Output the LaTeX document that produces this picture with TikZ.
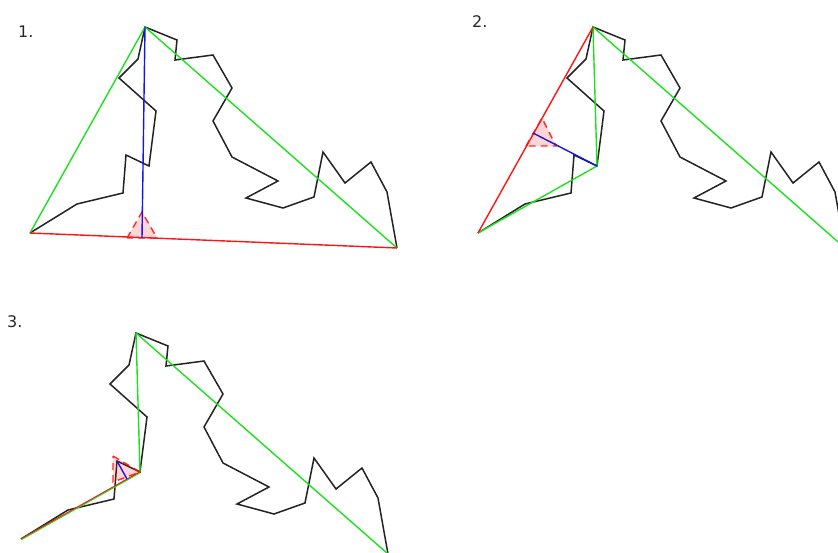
\documentclass[tikz,border=0pt]{standalone}
\usepackage{fontspec}
\setmainfont{DejaVu Sans}
\definecolor{lgreen}{RGB}{30,225,30}
\definecolor{lred}{RGB}{255,20,20}
\definecolor{lblue}{RGB}{20,20,235}
\definecolor{lblack}{RGB}{35,35,35}
\definecolor{ltext}{RGB}{40,40,40}
\begin{document}
\begin{tikzpicture}[x=1pt,y=-1pt,
  curve/.style={draw=lblack,line width=1.5pt,line join=miter},
  gline/.style={draw=lgreen,line width=1.4pt},
  rline/.style={draw=lred,line width=1.4pt},
  bline/.style={draw=lblue,line width=1.4pt},
  marker/.style={fill=lred,fill opacity=0.18,draw=lred,draw opacity=0.9,dashed,dash pattern=on 7pt off 5pt,line width=1.4pt},
  lab/.style={anchor=base west,inner sep=0pt,text=ltext,font=\fontsize{16}{16}\selectfont}]
\useasboundingbox (0,0) rectangle (838,553);
\clip (0,0) rectangle (838,553);
\def\pts{30/233,77/204,123/193,126/155,149/166,156/111,119/78,138/59,145/27,177/40,175/60,213/55,232/88,213/121,232/157,278/181,246/198,283/208,314/197,323/152,345/183,371/162,387/192,397/248}
% panel 1
\foreach \x/\y [count=\i] in \pts {\coordinate (a\i) at (\x,\y);}
% panel 2
\foreach \x/\y [count=\i] in \pts {\coordinate (b\i) at (\x+448,\y);}
% panel 3
\foreach \x/\y [count=\i] in \pts {\coordinate (c\i) at (\x-9,\y+306);}
\coordinate (fa) at (142,238);
\coordinate (fb) at (533,133);
\coordinate (fc) at (127,479);
\coordinate (ma1) at (127,238); \coordinate (ma2) at (142,212); \coordinate (ma3) at (157,238);
\coordinate (mb1) at (526,146); \coordinate (mb2) at (542,118); \coordinate (mb3) at (556,146);
\coordinate (mc1) at (113,456); \coordinate (mc2) at (140,472); \coordinate (mc3) at (113,482);

\node[lab] (l1) at (18,38) {1.};
\node[lab] (l2) at (472,28) {2.};
\node[lab] (l3) at (7,327) {3.};

% curves
\foreach \p in {a,b,c}{
  \draw[curve] (\p1) \foreach \i in {2,...,24}{ -- (\p\i) };
}
% panel 1
\draw[gline] (a1) -- (a9) -- (a24);
\draw[marker] (ma1) -- (ma2) -- (ma3) -- cycle;
\draw[rline] (a1) -- (a24);
\draw[bline] (a9) -- (fa);
% panel 2
\draw[gline] (b1) -- (b5) -- (b9) -- (b24);
\draw[marker] (mb1) -- (mb2) -- (mb3) -- cycle;
\draw[rline] (b1) -- (b9);
\draw[bline] (b5) -- (fb);
% panel 3
\draw[gline] (c9) -- (c24);
\draw[gline] (c5) -- (c9);
\draw[marker] (mc1) -- (mc2) -- (mc3) -- cycle;
\draw[rline] (c1) -- (c5);
\draw[gline,line width=0.9pt,transform canvas={yshift=-0.9pt}] (c1) -- (c5);
\draw[bline] (c4) -- (fc);
\end{tikzpicture}
\end{document}
